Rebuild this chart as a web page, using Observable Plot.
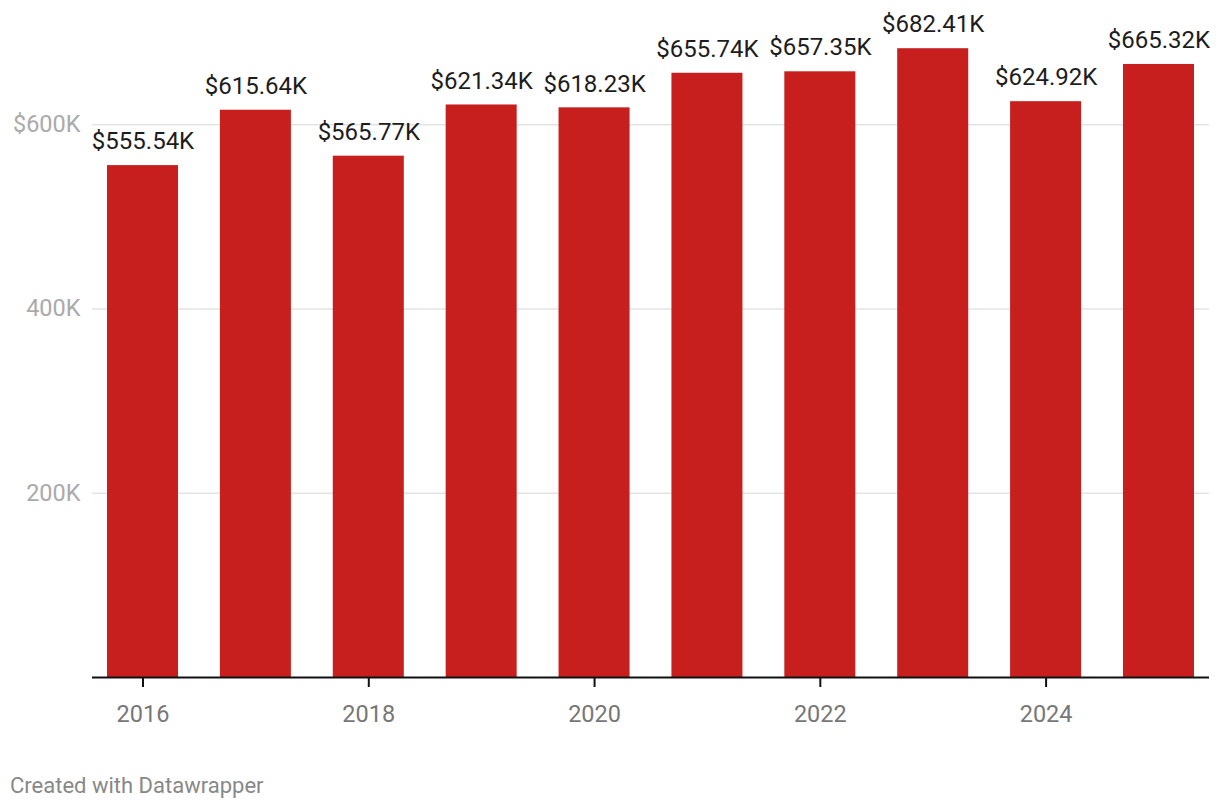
<!DOCTYPE html>
<html>
<head>
<meta charset="utf-8">
<script src="https://cdn.jsdelivr.net/npm/d3@7"></script>
<script src="https://cdn.jsdelivr.net/npm/@observablehq/plot@0.6"></script>
<style>
  body { margin: 0; background: #fff; font-family: Roboto, sans-serif; }
  #chart { position: relative; width: 1220px; }
  .footer { position: absolute; left: 10px; top: 773px; font-size: 22px; color: #888; font-family: Roboto, sans-serif; }
</style>
</head>
<body>
<div id="chart"></div>
<div class="footer">Created with Datawrapper</div>
<script>
const years = [2016, 2017, 2018, 2019, 2020, 2021, 2022, 2023, 2024, 2025];
const values = [555540, 615640, 565770, 621340, 618230, 655740, 657350, 682410, 624920, 665320];
const labels = ["$555.54K", "$615.64K", "$565.77K", "$621.34K", "$618.23K", "$655.74K", "$657.35K", "$682.41K", "$624.92K", "$665.32K"];
const yTicks = [200000, 400000, 600000];
const yTickLabels = ["200K", "400K", "$600K"];
const xTickYears = [2016, 2018, 2020, 2022, 2024];

const data = years.map((y, i) => ({year: y, value: values[i], label: labels[i]}));

const plot = Plot.plot({
  width: 1220,
  height: 760,
  marginLeft: 92,
  marginRight: 11,
  marginTop: 32,
  marginBottom: 83,
  style: {fontFamily: "Roboto, sans-serif", background: "#fff"},
  x: {type: "band", domain: years, paddingInner: 0.371, paddingOuter: 0.133, round: false, axis: null, label: null},
  y: {domain: [0, 700000], axis: null, label: null},
  marks: [
    Plot.ruleY(yTicks, {stroke: "#e3e3e3", strokeWidth: 1.5}),
    Plot.axisY({ticks: yTicks, tickSize: 0, tickPadding: 12, fontSize: 23.5, color: "#aaa", label: null, tickFormat: d => yTickLabels[yTicks.indexOf(d)]}),
    Plot.barY(data, {x: "year", y: "value", fill: "#c71e1e"}),
    Plot.text(data, {x: "year", y: "value", text: "label", dy: -24, fill: "#1d1d1d", fontSize: 24}),
    Plot.ruleY([0], {stroke: "#111", strokeWidth: 2}),
    Plot.axisX({ticks: xTickYears, tickSize: 10, tickPadding: 18, fontSize: 23.5, color: "#777", stroke: "#111", strokeWidth: 2, label: null, tickFormat: d => String(d)})
  ]
});
document.getElementById("chart").appendChild(plot);
</script>
</body>
</html>
